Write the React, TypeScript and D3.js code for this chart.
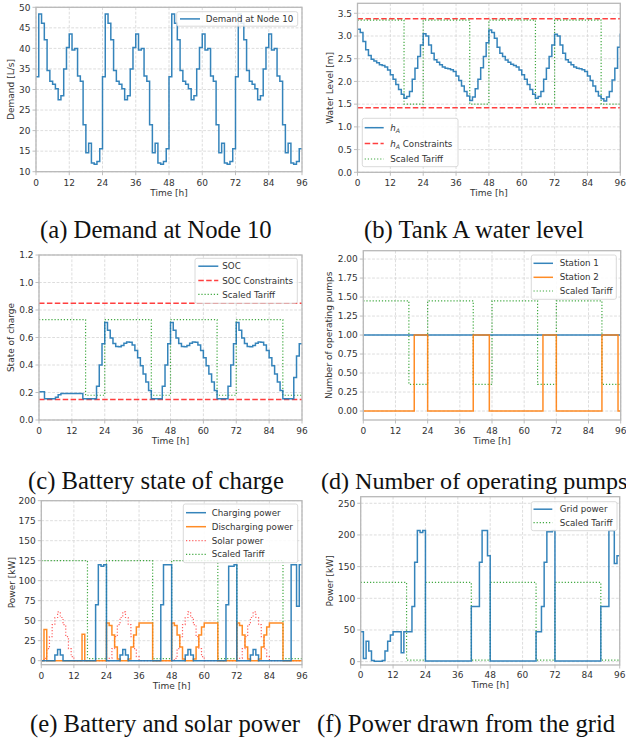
import React from 'react';
import * as d3 from 'd3';

// ---------------- DATA ----------------
const timeTicks = [0, 12, 24, 36, 48, 60, 72, 84, 96];

const demand = [
  33.1, 48.4, 46.1, 42.1, 34.6, 32.0, 31.3, 30.2, 27.5, 28.5, 35.0, 40.2, 43.5, 39.6, 40.0, 33.3, 32.0, 21.4, 14.6, 16.9, 12.1, 11.8, 12.5, 15.6,
  33.1, 48.4, 46.1, 42.1, 34.6, 32.0, 31.3, 30.2, 27.5, 28.5, 35.0, 40.2, 43.5, 39.6, 40.0, 33.3, 32.0, 21.4, 14.6, 16.9, 12.1, 11.8, 12.5, 15.6,
  33.1, 48.4, 46.1, 42.1, 34.6, 32.0, 31.3, 30.2, 27.5, 28.5, 35.0, 40.2, 43.5, 39.6, 40.0, 33.3, 32.0, 21.4, 14.6, 16.9, 12.1, 11.8, 12.5, 15.6,
  33.1, 48.4, 46.1, 42.1, 34.6, 32.0, 31.3, 30.2, 27.5, 28.5, 35.0, 40.2, 43.5, 39.6, 40.0, 33.3, 32.0, 21.4, 14.6, 16.9, 12.1, 11.8, 12.5, 15.6,
];

const tankLevel = [
  3.15, 3.08, 2.88, 2.70, 2.57, 2.49, 2.45, 2.41, 2.37, 2.35, 2.32, 2.25, 2.15, 2.05, 1.93, 1.82, 1.72, 1.63, 1.67, 1.78, 2.05, 2.29, 2.55, 2.80,
  3.05, 3.00, 2.80, 2.62, 2.48, 2.42, 2.37, 2.32, 2.29, 2.28, 2.26, 2.22, 2.12, 2.02, 1.90, 1.78, 1.68, 1.58, 1.66, 1.84, 2.05, 2.30, 2.55, 2.85,
  3.13, 3.08, 2.95, 2.75, 2.62, 2.55, 2.47, 2.42, 2.38, 2.35, 2.32, 2.25, 2.15, 2.05, 1.93, 1.82, 1.72, 1.63, 1.67, 1.78, 2.05, 2.29, 2.55, 2.80,
  3.04, 3.00, 2.80, 2.62, 2.48, 2.42, 2.37, 2.32, 2.29, 2.28, 2.26, 2.22, 2.12, 2.02, 1.90, 1.78, 1.68, 1.62, 1.57, 1.66, 1.78, 2.03, 2.29, 2.75,
];
tankLevel.push(3.04);
const tankBounds = [1.42, 3.38];

const soc = [
  0.205, 0.205, 0.155, 0.155, 0.155, 0.155, 0.165, 0.183, 0.193, 0.193, 0.193, 0.193, 0.193, 0.193, 0.193, 0.193, 0.155, 0.155, 0.155, 0.155, 0.155, 0.245, 0.40, 0.555,
  0.71, 0.652, 0.597, 0.557, 0.535, 0.532, 0.541, 0.559, 0.568, 0.566, 0.545, 0.505, 0.452, 0.394, 0.335, 0.276, 0.215, 0.155, 0.155, 0.155, 0.155, 0.245, 0.40, 0.555,
  0.71, 0.652, 0.597, 0.557, 0.535, 0.532, 0.541, 0.559, 0.568, 0.566, 0.545, 0.505, 0.452, 0.394, 0.335, 0.276, 0.215, 0.155, 0.155, 0.155, 0.155, 0.245, 0.40, 0.555,
  0.71, 0.652, 0.597, 0.557, 0.535, 0.532, 0.541, 0.559, 0.568, 0.566, 0.545, 0.505, 0.452, 0.394, 0.335, 0.276, 0.215, 0.155, 0.155, 0.155, 0.155, 0.31, 0.465, 0.555,
];
const socBounds = [0.15, 0.85];

const station1 = [
  1, 1, 1, 1, 1, 1, 1, 1, 1, 1, 1, 1, 1, 1, 1, 1, 1, 1, 1, 1, 1, 1, 1, 1,
  1, 1, 1, 1, 1, 1, 1, 1, 1, 1, 1, 1, 1, 1, 1, 1, 1, 1, 1, 1, 1, 1, 1, 1,
  1, 1, 1, 1, 1, 1, 1, 1, 1, 1, 1, 1, 1, 1, 1, 1, 1, 1, 1, 1, 1, 1, 1, 1,
  1, 1, 1, 1, 1, 1, 1, 1, 1, 1, 1, 1, 1, 1, 1, 1, 1, 1, 1, 1, 1, 1, 1, 1,
];
const station2 = [
  0, 0, 0, 0, 0, 0, 0, 0, 0, 0, 0, 0, 0, 0, 0, 0, 0, 0, 0, 1, 1, 1, 1, 1,
  0, 0, 0, 0, 0, 0, 0, 0, 0, 0, 0, 0, 0, 0, 0, 0, 0, 1, 1, 1, 1, 1, 1, 0,
  0, 0, 0, 0, 0, 0, 0, 0, 0, 0, 0, 0, 0, 0, 0, 0, 0, 0, 0, 1, 1, 1, 1, 1,
  0, 0, 0, 0, 0, 0, 0, 0, 0, 0, 0, 0, 0, 0, 0, 0, 0, 1, 1, 1, 1, 1, 1, 0,
];

const chargingPower = [
  0, 0, 0, 0, 0, 7, 14, 7, 0, 0, 0, 0, 0, 0, 0, 0, 0, 0, 0, 0, 70, 120, 118, 120,
  0, 0, 0, 0, 0, 7, 14, 7, 0, 0, 0, 0, 0, 0, 0, 0, 0, 0, 0, 0, 70, 120, 120, 120,
  0, 0, 0, 0, 0, 7, 14, 7, 0, 0, 0, 0, 0, 0, 0, 0, 0, 0, 0, 0, 70, 118, 118, 120,
  0, 0, 0, 0, 0, 7, 14, 7, 0, 0, 0, 0, 0, 0, 0, 0, 0, 0, 0, 0, 120, 120, 68, 120,
];
const dischargingPower = [
  0, 39, 0, 0, 0, 0, 0, 0, 0, 0, 0, 0, 0, 0, 0, 33, 0, 0, 0, 0, 0, 0, 0, 0,
  47, 44, 32, 17, 2, 0, 0, 0, 2, 17, 32, 42, 47, 47, 47, 47, 47, 0, 0, 0, 0, 0, 0, 0,
  47, 44, 32, 17, 2, 0, 0, 0, 2, 17, 32, 42, 47, 47, 47, 47, 47, 0, 0, 0, 0, 0, 0, 0,
  47, 44, 32, 17, 2, 0, 0, 0, 2, 17, 32, 42, 47, 47, 47, 47, 47, 0, 0, 0, 0, 0, 0, 0,
];
const solarPower = [
  0, 3, 15, 30, 45, 54, 61, 54, 45, 30, 15, 5, 0, 0, 0, 0, 0, 0, 0, 0, 0, 0, 0, 0,
  0, 3, 15, 30, 45, 54, 61, 54, 45, 30, 15, 5, 0, 0, 0, 0, 0, 0, 0, 0, 0, 0, 0, 0,
  0, 3, 15, 30, 45, 54, 61, 54, 45, 30, 15, 5, 0, 0, 0, 0, 0, 0, 0, 0, 0, 0, 0, 0,
  0, 3, 15, 30, 45, 54, 61, 54, 45, 30, 15, 5, 0, 0, 0, 0, 0, 0, 0, 0, 0, 0, 0, 0,
];
const gridPower = [
  47, 5, 32, 17, 2, 0.5, 0.5, 0.5, 2, 17, 32, 42, 47, 47, 47, 14, 47, 47, 47, 87, 157, 207, 204, 207,
  1, 1, 1, 1, 1, 1, 1, 1, 1, 1, 1, 1, 1, 1, 1, 1, 1, 87, 87, 87, 157, 207, 207, 167,
  1, 1, 1, 1, 1, 1, 1, 1, 1, 1, 1, 1, 1, 1, 1, 1, 1, 47, 47, 87, 157, 205, 205, 207,
  1, 1, 1, 1, 1, 1, 1, 1, 1, 1, 1, 1, 1, 1, 1, 1, 1, 87, 87, 87, 207, 207, 155, 167,
];

// tariff: 1 = peak price, 0 = off-peak price
const tariff = [
  1, 1, 1, 1, 1, 1, 1, 1, 1, 1, 1, 1, 1, 1, 1, 1, 1, 0, 0, 0, 0, 0, 0, 0,
  1, 1, 1, 1, 1, 1, 1, 1, 1, 1, 1, 1, 1, 1, 1, 1, 1, 0, 0, 0, 0, 0, 0, 0,
  1, 1, 1, 1, 1, 1, 1, 1, 1, 1, 1, 1, 1, 1, 1, 1, 1, 0, 0, 0, 0, 0, 0, 0,
  1, 1, 1, 1, 1, 1, 1, 1, 1, 1, 1, 1, 1, 1, 1, 1, 1, 0, 0, 0, 0, 0, 0, 0,
];
// scaled tariff levels [off-peak, peak] per panel
const tariffScaleB = [1.5, 3.35];
const tariffScaleC = [0.18, 0.73];
const tariffScaleD = [0.35, 1.45];
const tariffScaleE = [2.5, 125];
const tariffScaleF = [2.5, 125];

const ticksA = [10, 15, 20, 25, 30, 35, 40, 45, 50];
const ticksB = [0, 0.5, 1.0, 1.5, 2.0, 2.5, 3.0, 3.5];
const ticksC = [0, 0.2, 0.4, 0.6, 0.8, 1.0, 1.2];
const ticksD = [0, 0.25, 0.5, 0.75, 1.0, 1.25, 1.5, 1.75, 2.0];
const ticksE = [0, 25, 50, 75, 100, 125, 150, 175, 200];
const ticksF = [0, 50, 100, 150, 200, 250];

// ---------------- STYLE ----------------
const FONT = "'DejaVu Sans', sans-serif";
const BLUE = '#1f77b4';
const ORANGE = '#ff7f0e';
const RED = '#ff2a2a';
const GREEN = '#2ca02c';
const TXT = '#333333';

type Sty = { color: string; width: number; dash?: string; opacity?: number };
const sBlue: Sty = { color: BLUE, width: 1.5, opacity: 0.9 };
const sOrange: Sty = { color: ORANGE, width: 1.5, opacity: 0.9 };
const sConstr: Sty = { color: RED, width: 1.5, dash: '5.5,2.4', opacity: 0.9 };
const sTariff: Sty = { color: GREEN, width: 1.2, dash: '1.2,1.9', opacity: 0.9 };
const sSolar: Sty = { color: '#ff3b3b', width: 1.2, dash: '1.2,1.9', opacity: 0.8 };

const scaleTariff = (lv: number[]) => tariff.map((t) => (t ? lv[1] : lv[0]));

type Series = { values?: number[]; hline?: number; sty: Sty };
type Leg = {
  x: number; y: number; w: number; h: number; rows: number[];
  sx0: number; sx1: number; tx: number;
  items: { label: React.ReactNode; sty: Sty }[];
};

type PanelProps = {
  id: string;
  x0: number; x1: number; yTop: number; yBot: number;
  domain: [number, number];
  yTicks: number[]; fmt: (v: number) => string;
  ylabel: string; ylabelX: number;
  series: Series[];
  legend: Leg;
  xTickOff?: number;
};

function Panel(p: PanelProps) {
  const x = d3.scaleLinear().domain([0, 96]).range([p.x0, p.x1]);
  const y = d3.scaleLinear().domain(p.domain).range([p.yBot, p.yTop]);
  const line = d3
    .line<number>()
    .x((_, i) => x(i))
    .y((v) => y(v))
    .curve(d3.curveStepAfter);
  const ext = (v: number[]) => [...v, v[v.length - 1]];
  const clipId = `clip-${p.id}`;
  const dashProps = (s: Sty) => ({
    stroke: s.color,
    strokeWidth: s.width,
    strokeDasharray: s.dash,
    strokeOpacity: s.opacity ?? 1,
    fill: 'none',
  });
  const xTickOff = p.xTickOff ?? 13.8;
  return (
    <g>
      <defs>
        <clipPath id={clipId}>
          <rect x={p.x0} y={p.yTop} width={p.x1 - p.x0} height={p.yBot - p.yTop} />
        </clipPath>
      </defs>
      <rect x={p.x0} y={p.yTop} width={p.x1 - p.x0} height={p.yBot - p.yTop} fill="#fff" />
      {/* grid */}
      <g stroke="#d4d4d4" strokeWidth={0.8} strokeDasharray="2.8,1.6">
        {timeTicks.map((t) => (
          <line key={'gx' + t} x1={x(t)} x2={x(t)} y1={p.yTop} y2={p.yBot} />
        ))}
        {p.yTicks.map((t) => (
          <line key={'gy' + t} x1={p.x0} x2={p.x1} y1={y(t)} y2={y(t)} />
        ))}
      </g>
      {/* series */}
      <g clipPath={`url(#${clipId})`}>
        {p.series.map((s, i) =>
          s.values ? (
            <path key={i} d={line(ext(s.values)) || ''} {...dashProps(s.sty)} />
          ) : (
            <line key={i} x1={x(0)} x2={x(96)} y1={y(s.hline!)} y2={y(s.hline!)} {...dashProps(s.sty)} />
          )
        )}
      </g>
      {/* frame */}
      <rect
        x={p.x0}
        y={p.yTop}
        width={p.x1 - p.x0}
        height={p.yBot - p.yTop}
        fill="none"
        stroke="#b8b8b8"
        strokeWidth={1.3}
      />
      {/* ticks */}
      <g stroke="#b8b8b8" strokeWidth={0.9}>
        {timeTicks.map((t) => (
          <line key={'tx' + t} x1={x(t)} x2={x(t)} y1={p.yBot} y2={p.yBot + 3.5} />
        ))}
        {p.yTicks.map((t) => (
          <line key={'ty' + t} x1={p.x0 - 3.5} x2={p.x0} y1={y(t)} y2={y(t)} />
        ))}
      </g>
      <g fontFamily={FONT} fontSize={9} fill={TXT}>
        {timeTicks.map((t) => (
          <text key={'lx' + t} x={x(t)} y={p.yBot + xTickOff} textAnchor="middle">
            {t}
          </text>
        ))}
        {p.yTicks.map((t) => (
          <text key={'ly' + t} x={p.x0 - 5.5} y={y(t) + 3.3} textAnchor="end">
            {p.fmt(t)}
          </text>
        ))}
        <text x={(p.x0 + p.x1) / 2} y={p.yBot + xTickOff + 10.2} textAnchor="middle">
          Time [h]
        </text>
        <text
          transform={`translate(${p.ylabelX},${(p.yTop + p.yBot) / 2}) rotate(-90)`}
          textAnchor="middle"
          dominantBaseline="central"
        >
          {p.ylabel}
        </text>
      </g>
      {/* legend */}
      <g>
        <rect
          x={p.legend.x}
          y={p.legend.y}
          width={p.legend.w}
          height={p.legend.h}
          rx={2}
          fill="#fff"
          fillOpacity={0.85}
          stroke="#d0d0d0"
          strokeWidth={0.8}
        />
        {p.legend.items.map((it, i) => (
          <g key={i}>
            <line
              x1={p.legend.sx0}
              x2={p.legend.sx1}
              y1={p.legend.rows[i]}
              y2={p.legend.rows[i]}
              {...dashProps(it.sty)}
            />
            <text
              x={p.legend.tx}
              y={p.legend.rows[i] + 3.1}
              fontFamily={FONT}
              fontSize={8.7}
              fill={TXT}
            >
              {it.label}
            </text>
          </g>
        ))}
      </g>
    </g>
  );
}

const hA = (
  <>
    <tspan fontStyle="italic">h</tspan>
    <tspan fontStyle="italic" fontSize={6.2} dy={2}>
      A
    </tspan>
  </>
);
const hAc = (
  <>
    <tspan fontStyle="italic">h</tspan>
    <tspan fontStyle="italic" fontSize={6.2} dy={2}>
      A
    </tspan>
    <tspan dy={-2}> Constraints</tspan>
  </>
);

const CAP_FONT = "'Liberation Serif', 'Times New Roman', serif";

export default function App() {
  const f0 = (v: number) => d3.format('d')(v);
  const f1 = (v: number) => d3.format('.1f')(v);
  const f2 = (v: number) => d3.format('.2f')(v);
  return (
    <svg
      width={626}
      height={742}
      viewBox="0 0 626 742"
      style={{ position: 'absolute', left: 0, top: 0, background: '#fff' }}
    >
      <rect width={626} height={742} fill="#fff" />
      <Panel
        id="a"
        x0={36} x1={302} yTop={7.3} yBot={171.7}
        domain={[10, 50]} yTicks={ticksA} fmt={f0}
        ylabel="Demand [L/s]" ylabelX={10.7}
        series={[{ values: demand, sty: sBlue }]}
        legend={{
          x: 176.7, y: 11.7, w: 121, h: 14.5, rows: [18.9],
          sx0: 180, sx1: 200, tx: 205.7,
          items: [{ label: 'Demand at Node 10', sty: sBlue }],
        }}
      />
      <Panel
        id="b"
        x0={357.5} x1={620.3} yTop={3.3} yBot={172.3}
        domain={[0, 3.72]} yTicks={ticksB} fmt={f1}
        ylabel="Water Level [m]" ylabelX={330.3}
        series={[
          { hline: tankBounds[0], sty: sConstr },
          { hline: tankBounds[1], sty: sConstr },
          { values: scaleTariff(tariffScaleB), sty: sTariff },
          { values: tankLevel, sty: sBlue },
        ]}
        legend={{
          x: 362.3, y: 118.3, w: 95.7, h: 48.4, rows: [127.7, 143.6, 159],
          sx0: 364.7, sx1: 383.7, tx: 390.3,
          items: [
            { label: hA, sty: sBlue },
            { label: hAc, sty: sConstr },
            { label: 'Scaled Tariff', sty: sTariff },
          ],
        }}
      />
      <Panel
        id="c"
        x0={39} x1={302} yTop={255} yBot={420}
        domain={[0, 1.2]} yTicks={ticksC} fmt={f1}
        ylabel="State of charge" ylabelX={11}
        series={[
          { hline: socBounds[0], sty: sConstr },
          { hline: socBounds[1], sty: sConstr },
          { values: scaleTariff(tariffScaleC), sty: sTariff },
          { values: soc, sty: sBlue },
        ]}
        legend={{
          x: 195, y: 258.3, w: 102.3, h: 45, rows: [266.2, 280.6, 294.4],
          sx0: 198.3, sx1: 218.3, tx: 222.3,
          items: [
            { label: 'SOC', sty: sBlue },
            { label: 'SOC Constraints', sty: sConstr },
            { label: 'Scaled Tariff', sty: sTariff },
          ],
        }}
      />
      <Panel
        id="d"
        x0={363.3} x1={620.7} yTop={250.7} yBot={420}
        domain={[-0.118, 2.11]} yTicks={ticksD} fmt={f2}
        ylabel="Number of operating pumps" ylabelX={329}
        series={[
          { values: scaleTariff(tariffScaleD), sty: sTariff },
          { values: station1, sty: sBlue },
          { values: station2, sty: sOrange },
        ]}
        legend={{
          x: 531.3, y: 255, w: 85, h: 44.3, rows: [263.3, 277.3, 291],
          sx0: 533.5, sx1: 553, tx: 559.7,
          items: [
            { label: 'Station 1', sty: sBlue },
            { label: 'Station 2', sty: sOrange },
            { label: 'Scaled Tariff', sty: sTariff },
          ],
        }}
      />
      <Panel
        id="e"
        x0={41.3} x1={302} yTop={500.7} yBot={664.7}
        domain={[-5, 200]} yTicks={ticksE} fmt={f0}
        ylabel="Power [kW]" ylabelX={11.7}
        series={[
          { values: scaleTariff(tariffScaleE), sty: sTariff },
          { values: solarPower, sty: sSolar },
          { values: dischargingPower, sty: sOrange },
          { values: chargingPower, sty: sBlue },
        ]}
        legend={{
          x: 183.3, y: 504, w: 114.4, h: 58.7, rows: [512.7, 526.7, 540.7, 554.3],
          sx0: 186, sx1: 206, tx: 211.7,
          items: [
            { label: 'Charging power', sty: sBlue },
            { label: 'Discharging power', sty: sOrange },
            { label: 'Solar power', sty: sSolar },
            { label: 'Scaled Tariff', sty: sTariff },
          ],
        }}
      />
      <Panel
        id="f"
        x0={360.7} x1={619.7} yTop={496.7} yBot={665}
        domain={[-5.3, 260.4]} yTicks={ticksF} fmt={f0}
        ylabel="Power [kW]" ylabelX={329.7}
        xTickOff={12.5}
        series={[
          { values: scaleTariff(tariffScaleF), sty: sTariff },
          { values: gridPower, sty: sBlue },
        ]}
        legend={{
          x: 531.3, y: 501.7, w: 85.7, h: 29, rows: [509.2, 522.7],
          sx0: 533.5, sx1: 552.3, tx: 559.7,
          items: [
            { label: 'Grid power', sty: sBlue },
            { label: 'Scaled Tariff', sty: sTariff },
          ],
        }}
      />
      <g fontFamily={CAP_FONT} fontSize={24.7} fill="#111">
        <text x={40} y={238}>(a) Demand at Node 10</text>
        <text x={364} y={238}>(b) Tank A water level</text>
        <text x={28} y={489}>(c) Battery state of charge</text>
        <text x={321} y={489} fontSize={24.1}>(d) Number of operating pumps</text>
        <text x={30} y={732}>(e) Battery and solar power</text>
        <text x={317} y={732}>(f) Power drawn from the grid</text>
      </g>
    </svg>
  );
}
